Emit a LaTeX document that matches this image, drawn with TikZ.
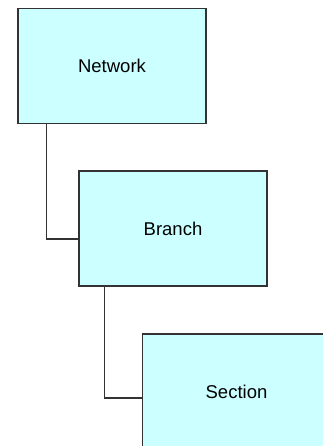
\documentclass[tikz,border=0pt]{standalone}
\usepackage{fontspec}
\setmainfont{Liberation Sans}
\usepackage{tikz}
\usetikzlibrary{positioning}
\definecolor{boxcyan}{HTML}{CCFFFF}
\definecolor{boxline}{HTML}{333333}

\begin{document}
\begin{tikzpicture}[
x=1pt, y=1pt,
font=\fontsize{18.5}{20}\selectfont,
levelbox/.style={draw=boxline, fill=boxcyan, line width=1.1pt, minimum width=188pt, minimum height=115pt, inner sep=0pt},
link/.style={draw=boxline, line width=1.1pt}
]
    % Frame of the picture
    \useasboundingbox (0,0) rectangle (323,-446);
    \clip (0,0) rectangle (323,-446);

    % Draw boxes
    \node[levelbox] (network) at (112,-66) {Network};
    \node[levelbox] (branch) at (173,-228.5) {Branch};
    \node[levelbox] (section) at (236.5,-391.5) {Section};

    % Draw links
    \draw[link] ([xshift=29pt]network.south west) |- ([yshift=-10.5pt]branch.west);
    \draw[link] ([xshift=26pt]branch.south west) |- ([yshift=-6.5pt]section.west);
\end{tikzpicture}
\end{document}
